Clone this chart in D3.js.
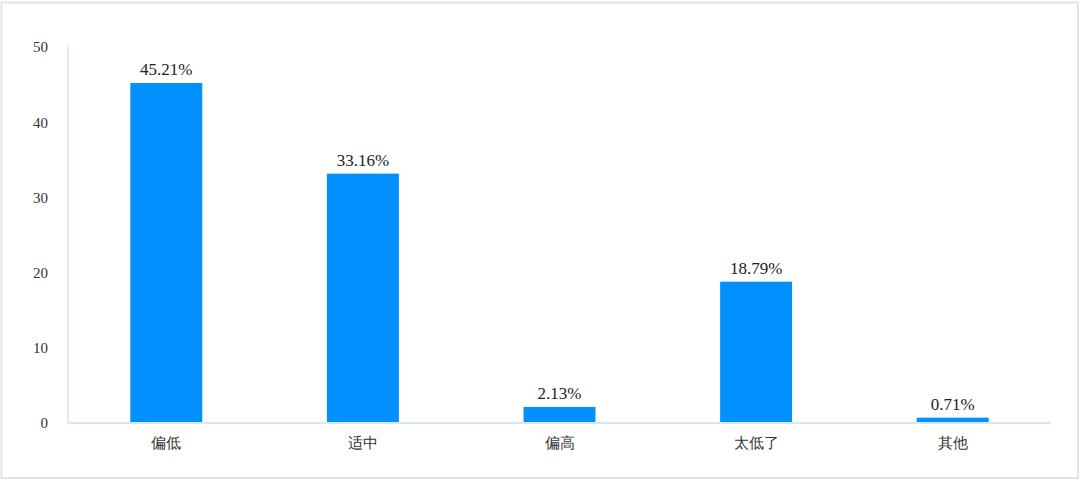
<!DOCTYPE html>
<html>
<head>
<meta charset="utf-8">
<script src="https://cdn.jsdelivr.net/npm/d3@7"></script>
<style>
  html, body { margin: 0; padding: 0; background: #fff; }
  .axis path, .axis line { stroke: #dce4f2; }
  .tick text { font-family: "Liberation Serif", "DejaVu Serif", serif; font-size: 15px; fill: #333; }
</style>
</head>
<body>
<div class="chart"></div>
<script>
var categories = ["偏低", "适中", "偏高", "太低了", "其他"];
var values = [45.21, 33.16, 2.13, 18.79, 0.71];
var labels = ["45.21%", "33.16%", "2.13%", "18.79%", "0.71%"];
var yTicks = [0, 10, 20, 30, 40, 50];

var W = 1080, H = 480,
    margin = {top: 47, right: 29, bottom: 57, left: 68};
var width = W - margin.left - margin.right,
    height = H - margin.top - margin.bottom;

var svg = d3.select("div.chart").append("svg")
    .attr("width", W)
    .attr("height", H);

// outer frame
svg.append("rect")
    .attr("x", 1.5).attr("y", 2.5)
    .attr("width", W - 3.5).attr("height", H - 4.5)
    .attr("fill", "none")
    .attr("stroke", "#e3e3e3")
    .attr("stroke-width", 2);

var g = svg.append("g").attr("transform", "translate(" + margin.left + "," + margin.top + ")");

var x = d3.scaleBand().domain(categories).range([0, width]).paddingInner(0.634).paddingOuter(0.317);
var y = d3.scaleLinear().domain([0, 50]).range([height, 0]);

g.selectAll("rect.bar")
    .data(values)
    .enter().append("rect")
    .attr("class", "bar")
    .attr("x", function(d, i) { return x(categories[i]); })
    .attr("y", function(d) { return y(d); })
    .attr("width", x.bandwidth())
    .attr("height", function(d) { return height - y(d); })
    .attr("fill", "#0091ff");

g.selectAll("text.val")
    .data(values)
    .enter().append("text")
    .attr("class", "val")
    .attr("x", function(d, i) { return x(categories[i]) + x.bandwidth() / 2; })
    .attr("y", function(d) { return y(d) - 8; })
    .attr("text-anchor", "middle")
    .attr("font-family", "Liberation Serif, DejaVu Serif, serif")
    .attr("font-size", 17)
    .attr("fill", "#222")
    .text(function(d, i) { return labels[i]; });

// y axis: line only, labels pushed left
g.append("line")
    .attr("x1", 0).attr("x2", 0)
    .attr("y1", -2).attr("y2", height)
    .attr("stroke", "#dce4f2").attr("stroke-width", 1.5);

g.append("line")
    .attr("x1", 0).attr("x2", width)
    .attr("y1", height).attr("y2", height)
    .attr("stroke", "#dce4f2").attr("stroke-width", 2);

g.append("g")
    .attr("class", "axis")
    .call(d3.axisLeft(y).tickValues(yTicks).tickSize(0).tickPadding(20))
    .call(function(s) { s.select(".domain").remove(); });

g.append("g")
    .attr("class", "axis")
    .attr("transform", "translate(0," + height + ")")
    .call(d3.axisBottom(x).tickSize(0).tickPadding(14))
    .call(function(s) { s.select(".domain").remove(); })
    .selectAll("text")
    .attr("font-family", "Noto Sans CJK SC, sans-serif")
    .attr("font-size", 15)
    .attr("fill", "#333");
</script>
</body>
</html>
